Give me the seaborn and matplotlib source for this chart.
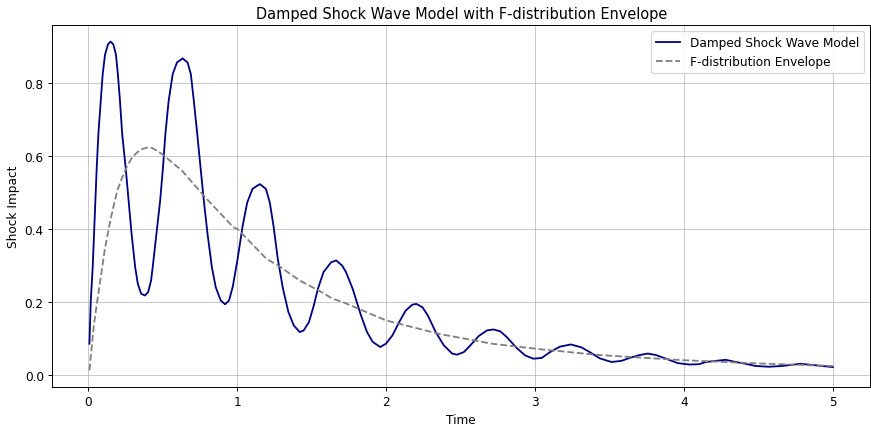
import pandas as pd
import seaborn as sns
import matplotlib.pyplot as plt

# values
wave_t = [0.007, 0.016, 0.029, 0.038, 0.047, 0.056, 0.067, 0.083, 0.096, 0.112, 0.132, 0.149,
          0.167, 0.185, 0.198, 0.212, 0.227, 0.250, 0.270, 0.290, 0.314, 0.332, 0.354,
          0.379, 0.401, 0.421, 0.432, 0.457, 0.482, 0.501, 0.517, 0.539, 0.566, 0.595,
          0.633, 0.666, 0.688, 0.708, 0.731, 0.753, 0.775, 0.800, 0.829, 0.855, 0.889,
          0.918, 0.944, 0.969, 1.002, 1.036, 1.067, 1.102, 1.151, 1.192, 1.218, 1.243,
          1.272, 1.307, 1.343, 1.379, 1.419, 1.445, 1.481, 1.514, 1.541, 1.579, 1.630,
          1.664, 1.704, 1.730, 1.775, 1.831, 1.871, 1.909, 1.960, 1.998, 2.042, 2.087,
          2.131, 2.176, 2.202, 2.243, 2.280, 2.332, 2.387, 2.443, 2.476, 2.521, 2.565,
          2.621, 2.677, 2.721, 2.766, 2.810, 2.877, 2.933, 2.988, 3.044, 3.10, 3.167,
          3.24, 3.311, 3.367, 3.434, 3.512, 3.579, 3.634, 3.701, 3.757, 3.812, 3.879,
          3.957, 4.035, 4.102, 4.146, 4.213, 4.28, 4.347, 4.414, 4.480, 4.57, 4.658,
          4.78, 4.859, 5.0]
wave_y = [0.086, 0.204, 0.296, 0.387, 0.478, 0.569, 0.660, 0.751, 0.824, 0.878, 0.906, 0.913,
          0.906, 0.878, 0.824, 0.751, 0.660, 0.569, 0.478, 0.387, 0.296, 0.250, 0.223,
          0.218, 0.227, 0.259, 0.296, 0.387, 0.478, 0.569, 0.660, 0.751, 0.824, 0.856,
          0.867, 0.856, 0.824, 0.751, 0.660, 0.569, 0.478, 0.387, 0.296, 0.241, 0.204,
          0.194, 0.204, 0.241, 0.318, 0.409, 0.473, 0.510, 0.523, 0.510, 0.473, 0.409,
          0.318, 0.236, 0.173, 0.136, 0.118, 0.122, 0.145, 0.191, 0.236, 0.282, 0.309,
          0.314, 0.300, 0.282, 0.236, 0.163, 0.118, 0.091, 0.077, 0.086, 0.109, 0.145,
          0.177, 0.193, 0.195, 0.186, 0.163, 0.118, 0.0815, 0.059, 0.056, 0.063, 0.0815,
          0.107, 0.1225, 0.125, 0.120, 0.104, 0.074, 0.054, 0.045, 0.047, 0.063, 0.078,
          0.084, 0.076, 0.063, 0.046, 0.036, 0.039, 0.047, 0.055, 0.059, 0.055, 0.045,
          0.033, 0.029, 0.030, 0.036, 0.039, 0.042, 0.036, 0.031, 0.025, 0.023, 0.025,
          0.031, 0.028, 0.022]

env_t = [0.007, 0.020, 0.038, 0.060, 0.083, 0.109, 0.138, 0.167, 0.194, 0.227, 0.261, 0.294,
         0.328, 0.361, 0.394, 0.428, 0.461, 0.495, 0.628, 0.784, 0.973, 1.002, 1.196,
         1.275, 1.419, 1.563, 1.641, 1.708, 1.997, 2.354, 2.71, 3.044, 3.43, 3.99, 4.5, 5.0]
env_y = [0.013, 0.068, 0.141, 0.204, 0.268, 0.341, 0.405, 0.459, 0.505, 0.541, 0.573, 0.596,
         0.610, 0.619, 0.623, 0.622, 0.614, 0.605, 0.56, 0.487, 0.405, 0.40, 0.318,
         0.30, 0.259, 0.228, 0.209, 0.20, 0.15, 0.113, 0.086, 0.0705, 0.055, 0.041, 0.032, 0.025]

wave = pd.DataFrame({'Time': wave_t, 'Shock Impact': wave_y})
env = pd.DataFrame({'Time': env_t, 'Shock Impact': env_y})

fig, ax = plt.subplots(figsize=(10, 4.925), dpi=87.1)
sns.lineplot(data=wave, x='Time', y='Shock Impact', color='navy', linewidth=1.5,
             label='Damped Shock Wave Model', ax=ax)
sns.lineplot(data=env, x='Time', y='Shock Impact', color='gray', linestyle='--', linewidth=1.5,
             label='F-distribution Envelope', ax=ax)
ax.set_title('Damped Shock Wave Model with F-distribution Envelope')
ax.set_xlabel('Time')
ax.set_ylabel('Shock Impact')
ax.grid(True, alpha=0.7)
ax.legend(loc='upper right')
fig.subplots_adjust(left=0.06, right=0.999, bottom=0.096, top=0.939)
plt.savefig('out.png', dpi=87.1)
